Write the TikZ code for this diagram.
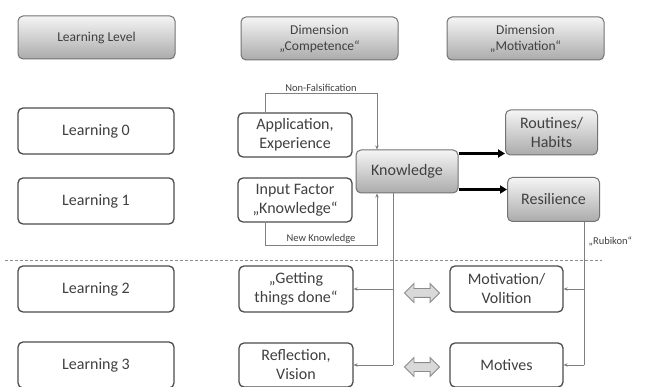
\documentclass[tikz,border=0pt]{standalone}
\usepackage{fontspec}
\setmainfont{Carlito}
\usetikzlibrary{arrows.meta,shapes.arrows}

\begin{document}
\begin{tikzpicture}[x=1pt,y=-1pt,
  every node/.style={text=black!75, font=\fontsize{16}{19}\selectfont, align=center, inner sep=1pt},
  levelbox/.style={draw=black!70, line width=1.3pt, rounded corners=5pt, fill=white, minimum width=156pt, minimum height=46pt},
  compbox/.style={levelbox, minimum width=114pt, minimum height=44pt},
  headbox/.style={draw=black!55, line width=1pt, rounded corners=5pt, top color=black!4, bottom color=black!33, minimum width=157pt, minimum height=43pt, font=\fontsize{13.5}{16}\selectfont},
  greybox/.style={headbox, font=\fontsize{16}{19}\selectfont},
  thin line/.style={draw=black!50, line width=0.8pt},
  thin arrow/.style={thin line, -{Stealth[length=4pt,width=3.5pt]}},
  thick arrow/.style={draw=black, line width=2.2pt, -{Triangle[length=7pt,width=8pt]}},
  swap arrow/.style={double arrow, draw=black!45, line width=0.8pt, fill=black!15, minimum height=35pt, inner xsep=0pt, inner ysep=4pt, double arrow head extend=5pt},
  small label/.style={font=\fontsize{10.5}{12}\selectfont, inner sep=1.5pt}
]
\fill[white] (0,0) rectangle (648,387);
\useasboundingbox (0,0) rectangle (648,387);

\node[headbox] (lvlhead) at (96.5,37.5) {Learning Level};
\node[headbox] (comphead) at (319.5,38.5) {Dimension\\„Competence“};
\node[headbox] (mothead) at (525.5,38.5) {Dimension\\„Motivation“};

\node[levelbox] (lvl0) at (96,131) {Learning 0};
\node[levelbox] (lvl1) at (96,201) {Learning 1};
\node[levelbox] (lvl2) at (96,289) {Learning 2};
\node[levelbox] (lvl3) at (96,365) {Learning 3};

\node[compbox] (app) at (295,135) {Application,\\Experience};
\node[compbox] (inp) at (295,200) {Input Factor\\„Knowledge“};
\node[greybox, minimum width=102pt] (know) at (407,171.5) {Knowledge};
\node[greybox, minimum width=92pt, minimum height=45pt] (rout) at (551.5,132.5) {Routines/\\Habits};
\node[greybox, minimum width=92pt, minimum height=44pt] (resil) at (553.5,199.5) {Resilience};

\node[compbox, minimum height=46pt] (gtd) at (296,289) {„Getting\\things done“};
\node[compbox] (refl) at (296,365) {Reflection,\\Vision};
\node[compbox, minimum width=113pt, minimum height=46pt] (motvol) at (506.5,289) {Motivation/\\Volition};
\node[compbox, minimum width=113pt] (motives) at (506.5,365) {Motives};
\node[swap arrow] (swap2) at (422,293) {};
\node[swap arrow] (swap3) at (422,367) {};

\coordinate (nfl) at (265,93);
\coordinate (nfr) at (377,93);
\draw[thin arrow] (app.north -| nfl) -- (nfl) -- node[small label, above] {Non-Falsification} (nfr) -- (know.north -| nfr);
\coordinate (nkl) at (265,245);
\coordinate (nkr) at (377,245);
\draw[thin arrow] (inp.south -| nkl) -- (nkl) -- node[small label, above] {New Knowledge} (nkr) -- (know.south -| nkr);

\draw[thick arrow] ([yshift=18pt]know.east) -- ([yshift=18pt]know.east -| rout.west);
\draw[thick arrow] ([yshift=-18pt]know.east) -- ([yshift=-18pt]know.east -| resil.west);

\coordinate (kdown) at (393,366);
\draw[thin line] (know.south -| kdown) -- (refl.east -| kdown);
\draw[thin arrow] (gtd.east -| kdown) -- (gtd.east);
\draw[thin arrow] (refl.east -| kdown) -- (refl.east);

\coordinate (rdown) at (584,366);
\draw[thin line] (resil.south -| rdown) -- (motives.east -| rdown);
\draw[thin arrow] (motvol.east -| rdown) -- (motvol.east);
\draw[thin arrow] (motives.east -| rdown) -- (motives.east);

\coordinate (sepl) at (5,260);
\coordinate (sepr) at (602,260);
\draw[draw=black!45, line width=0.8pt, dash pattern=on 3pt off 2pt] (sepl) -- (sepr);
\node[small label, anchor=west] (rubikon) at (587,242) {„Rubikon“};
\end{tikzpicture}
\end{document}
